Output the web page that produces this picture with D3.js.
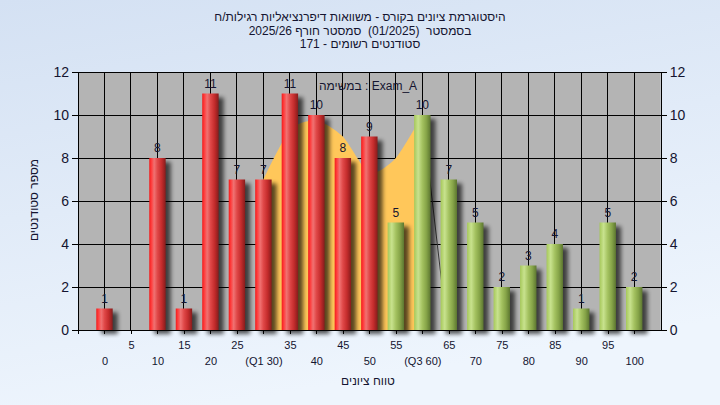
<!DOCTYPE html>
<html>
<head>
<meta charset="utf-8">
<script src="https://cdnjs.cloudflare.com/ajax/libs/d3/7.8.5/d3.min.js"></script>
<style>
  html, body { margin: 0; padding: 0; }
  svg { display: block; }
  text { font-family: "Liberation Sans", Arial, "DejaVu Sans", sans-serif; fill: #141430; }
</style>
</head>
<body>
<script>
// ---- data ----
const categories = [0,5,10,15,20,25,30,35,40,45,50,55,60,65,70,75,80,85,90,95,100];
const tickLabels = ["0","5","10","15","20","25","(Q1 30)","35","40","45","50","55","(Q3 60)","65","70","75","80","85","90","95","100"];
const counts = [1,0,8,1,11,7,7,11,10,8,9,5,10,7,5,2,3,4,1,5,2];
const passMark = 55;
// interquartile band
const bandX = [30,35,40,45,50,55,60];
const bandY = [7,9.3,9.75,9,7.3,8,10];
const tailX = [60,64.7];
const tailY = [10,0];
const yTicks = [0,2,4,6,8,10,12];
const titleLines = [
  "היסטוגרמת ציונים בקורס - משוואות דיפרנציאליות רגילות/ח",
  "בסמסטר  (01/2025)  סמסטר חורף 2025/26",
  "סטודנטים רשומים - 171"
];
const legendText = "במשימה : Exam_A";
const xTitle = "טווח ציונים";
const yTitle = "מספר סטודנטים";

// ---- layout ----
const W = 720, H = 405;
const svg = d3.select("body").append("svg").attr("width", W).attr("height", H);
const defs = svg.append("defs");

const bg = defs.append("linearGradient").attr("id","bg").attr("x1",0).attr("y1",0).attr("x2",0.3).attr("y2",1);
bg.append("stop").attr("offset","0%").attr("stop-color","#d4e1f3");
bg.append("stop").attr("offset","100%").attr("stop-color","#eef5fd");

const redG = defs.append("linearGradient").attr("id","red").attr("x1",0).attr("x2",1).attr("y1",0).attr("y2",0);
[["0%","#f01c1c"],["12%","#ff3a3a"],["30%","#f07272"],["50%","#e04848"],["75%","#c42c2c"],["100%","#861c1c"]]
  .forEach(s => redG.append("stop").attr("offset",s[0]).attr("stop-color",s[1]));
const greenG = defs.append("linearGradient").attr("id","green").attr("x1",0).attr("x2",1).attr("y1",0).attr("y2",0);
[["0%","#a6c85a"],["25%","#c8e28e"],["50%","#a4c260"],["75%","#86a448"],["100%","#5c7630"]]
  .forEach(s => greenG.append("stop").attr("offset",s[0]).attr("stop-color",s[1]));

const blur = defs.append("filter").attr("id","blur").attr("x","-50%").attr("y","-50%").attr("width","200%").attr("height","200%");
blur.append("feGaussianBlur").attr("stdDeviation",2.2);

svg.append("rect").attr("width",W).attr("height",H).attr("fill","url(#bg)");

const x = d3.scaleLinear().domain([-5,105]).range([78,660.7]);
const y = d3.scaleLinear().domain([0,12]).range([330,72]);
const slot = x(5) - x(0);
const bw = slot * 0.62;

// plot background
svg.append("rect").attr("x",x(-5)).attr("y",y(12)).attr("width",x(105)-x(-5)).attr("height",y(0)-y(12)).attr("fill","#b4b4b4");

// grid
const grid = svg.append("g").attr("stroke","#000").attr("stroke-width",1).attr("shape-rendering","crispEdges");
grid.selectAll("line.h").data(yTicks).join("line").attr("class","h")
  .attr("x1",x(-5)).attr("x2",x(105)).attr("y1",d=>y(d)).attr("y2",d=>y(d));
grid.selectAll("line.v").data(categories).join("line").attr("class","v")
  .attr("x1",d=>x(d)).attr("x2",d=>x(d)).attr("y1",y(12)).attr("y2",y(0));

// band area
svg.append("path")
  .attr("d", d3.area().x((d,i)=>x(bandX[i])).y0(y(0)).y1(d=>y(d)).curve(d3.curveCardinal.tension(0.3))(bandY))
  .attr("fill","#ffc75a");
svg.append("path")
  .attr("d", d3.line().x((d,i)=>x(tailX[i])).y(d=>y(d))(tailY))
  .attr("fill","none").attr("stroke","#3a3a3a").attr("stroke-width",1);

// bars
const bars = svg.append("g");
const data = categories.map((c,i)=>({c, v: counts[i]})).filter(d=>d.v>0);
bars.selectAll("rect.sh").data(data).join("rect").attr("class","sh")
  .attr("x",d=>x(d.c)-bw/2+5).attr("y",d=>y(d.v)+4).attr("width",bw).attr("height",d=>y(0)-y(d.v))
  .attr("fill","#000").attr("opacity",0.65).attr("filter","url(#blur)");
bars.selectAll("rect.bar").data(data).join("rect").attr("class","bar")
  .attr("x",d=>x(d.c)-bw/2).attr("y",d=>y(d.v)).attr("width",bw).attr("height",d=>y(0)-y(d.v))
  .attr("fill",d=>d.c>=passMark ? "url(#green)" : "url(#red)");
bars.selectAll("text").data(data).join("text")
  .attr("x",d=>x(d.c)).attr("y",d=>y(d.v)-6).attr("text-anchor","middle")
  .attr("font-size",12).text(d=>d.v);

// axes
const axL = svg.append("g").attr("transform",`translate(${x(-5)},0)`)
  .call(d3.axisLeft(y).tickValues(yTicks).tickSize(6).tickSizeOuter(0).tickPadding(3));
const axR = svg.append("g").attr("transform",`translate(${x(105)},0)`)
  .call(d3.axisRight(y).tickValues(yTicks).tickSize(6).tickSizeOuter(0).tickPadding(3));
[axL, axR].forEach(a => {
  a.selectAll("text").attr("font-size",14).attr("font-family",null).style("fill","#141430");
  a.selectAll("path,line").attr("stroke","#000").attr("shape-rendering","crispEdges");
});
const axB = svg.append("g").attr("transform",`translate(0,${y(0)})`)
  .call(d3.axisBottom(x).tickValues([-5].concat(categories)).tickSize(4).tickSizeOuter(0)
    .tickFormat(d => d < 0 ? "" : tickLabels[categories.indexOf(d)]));
axB.selectAll("path,line").attr("stroke","#000").attr("shape-rendering","crispEdges");
axB.selectAll("text").attr("font-size",11).attr("font-family",null).style("fill","#141430")
  .attr("y", d => (categories.indexOf(d) % 2 === 1) ? 11 : 27.5);

// titles
const tt = svg.append("g");
titleLines.forEach((t,i) => {
  tt.append("text").attr("x",360).attr("y",21 + i*13.5).attr("text-anchor","middle")
    .style("white-space","pre").attr("font-size",12).text(t);
});
svg.append("text").attr("x",368).attr("y",90).attr("text-anchor","middle").attr("font-size",12).text(legendText);
svg.append("text").attr("x",368).attr("y",385).attr("text-anchor","middle").attr("font-size",12).text(xTitle);
svg.append("text").attr("transform","translate(38,200) rotate(-90)").attr("text-anchor","middle").attr("font-size",12).text(yTitle);
</script>
</body>
</html>
